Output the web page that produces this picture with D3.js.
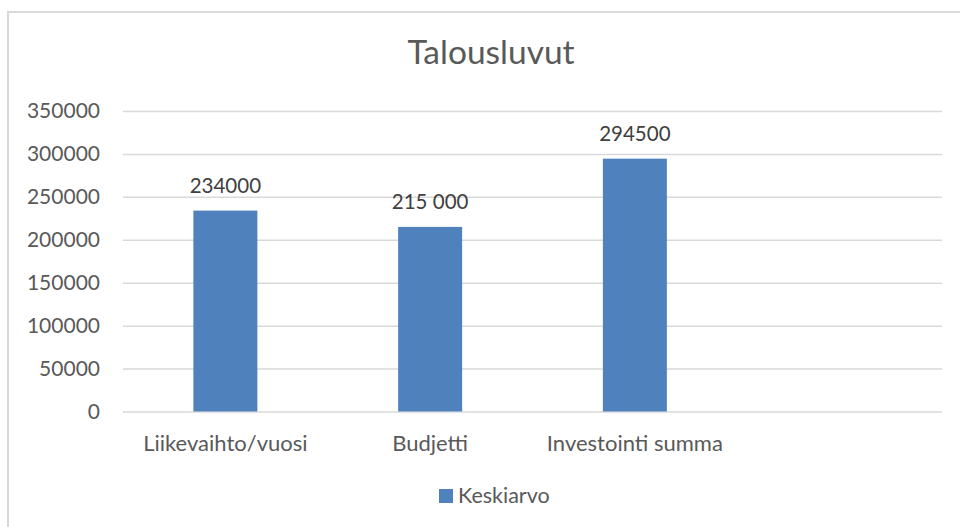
<!DOCTYPE html>
<html>
<head>
<meta charset="utf-8">
<script src="https://cdn.jsdelivr.net/npm/d3@7"></script>
<style>
  html, body { margin: 0; padding: 0; background: #fff; }
  svg { display: block; font-family: Lato, "Open Sans", sans-serif; }
</style>
</head>
<body>
<svg id="chart"></svg>
<script>
const categories = ['Liikevaihto/vuosi', 'Budjetti', 'Investointi summa', ''];
const values = [234000, 215000, 294500, null];
const valueLabels = ['234000', '215 000', '294500', ''];
const yTicks = [0, 50000, 100000, 150000, 200000, 250000, 300000, 350000];
const seriesName = 'Keskiarvo';
const chartTitle = 'Talousluvut';

const width = 960;
const height = 527;
const barColor = '#4f81bd';
const textColor = '#595959';

const svg = d3.select('#chart')
  .attr('width', width)
  .attr('height', height);

// chart area border (cut off at right and bottom like the reference)
svg.append('rect')
  .attr('x', 8)
  .attr('y', 12)
  .attr('width', 970)
  .attr('height', 540)
  .attr('fill', '#fff')
  .attr('stroke', '#d9d9d9')
  .attr('stroke-width', 2);

const x = d3.scaleBand()
  .domain(categories)
  .range([123, 942])
  .paddingInner(0.6875)
  .paddingOuter(0.34375);

const y = d3.scaleLinear()
  .domain([0, 350000])
  .range([411.5, 111]);

svg.append('text')
  .attr('x', 491)
  .attr('y', 64)
  .attr('text-anchor', 'middle')
  .attr('font-size', 33.5)
  .attr('fill', textColor)
  .text(chartTitle);

const yAxis = d3.axisLeft(y)
  .tickValues(yTicks)
  .tickSize(-(942 - 123))
  .tickPadding(10)
  .tickFormat(d3.format('d'));

const gy = svg.append('g')
  .attr('transform', 'translate(123,0)')
  .call(yAxis);
gy.select('.domain').remove();
gy.selectAll('.tick line')
  .attr('stroke', '#d9d9d9')
  .attr('stroke-width', 1.5);
gy.selectAll('.tick text')
  .attr('x', -23)
  .attr('font-size', 21)
  .attr('fill', textColor)
  .attr('font-family', 'Lato, sans-serif');

const xAxis = d3.axisBottom(x).tickSize(0).tickPadding(24);
const gx = svg.append('g')
  .attr('transform', 'translate(0,' + y(0) + ')')
  .call(xAxis);
gx.select('.domain').remove();
gx.selectAll('.tick text')
  .attr('font-size', 22)
  .attr('fill', textColor)
  .attr('font-family', 'Lato, sans-serif');

const data = categories.map((c, i) => ({ cat: c, value: values[i], label: valueLabels[i] }))
  .filter((d) => d.value != null);

svg.append('g')
  .selectAll('rect')
  .data(data)
  .enter()
  .append('rect')
  .attr('x', (d) => x(d.cat))
  .attr('y', (d) => y(d.value))
  .attr('width', x.bandwidth())
  .attr('height', (d) => y(0) - y(d.value))
  .attr('fill', barColor);

svg.append('g')
  .selectAll('text')
  .data(data)
  .enter()
  .append('text')
  .attr('x', (d) => x(d.cat) + x.bandwidth() / 2)
  .attr('y', (d) => y(d.value) - 18)
  .attr('text-anchor', 'middle')
  .attr('font-size', 20.5)
  .attr('fill', '#404040')
  .text((d) => d.label);

// legend
const legend = svg.append('g').attr('transform', 'translate(439,489)');
legend.append('rect')
  .attr('width', 14)
  .attr('height', 14)
  .attr('fill', barColor);
legend.append('text')
  .attr('x', 19)
  .attr('y', 14)
  .attr('font-size', 21.5)
  .attr('fill', textColor)
  .text(seriesName);
</script>
</body>
</html>
